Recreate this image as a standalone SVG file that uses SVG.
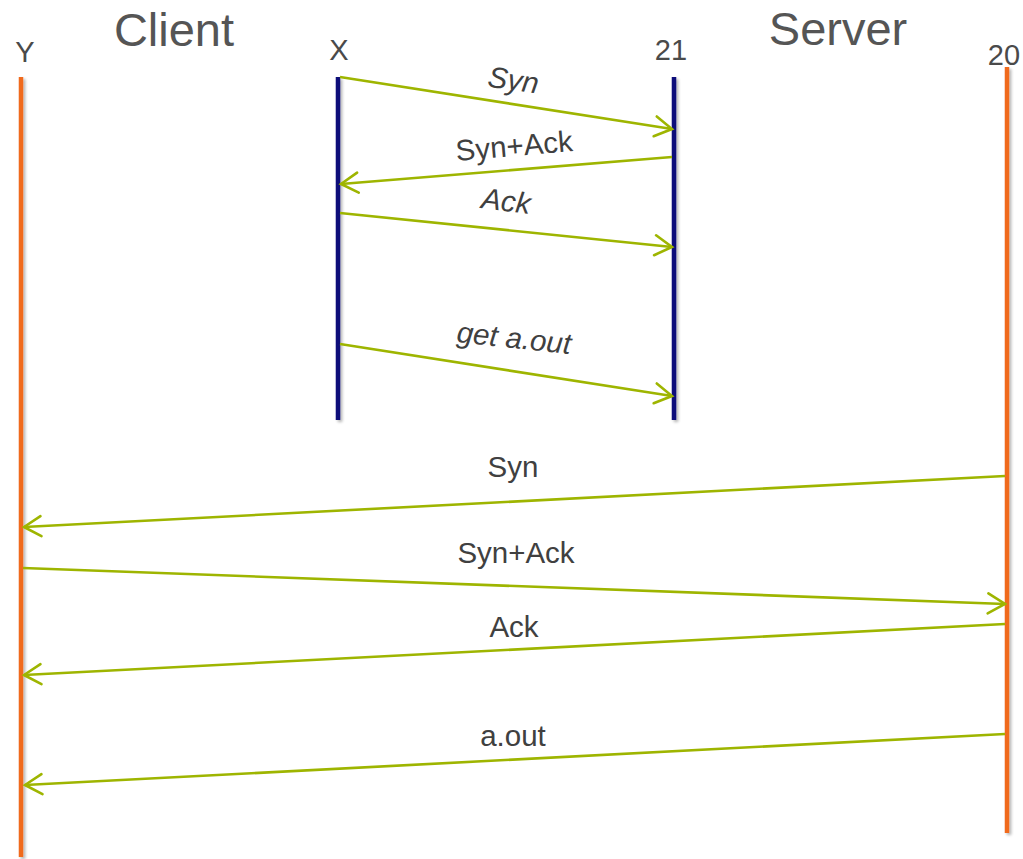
<svg xmlns="http://www.w3.org/2000/svg" width="1023" height="859" viewBox="0 0 1023 859">
  <defs>
    <style>
      .title { font-family: "Liberation Sans", Arial, sans-serif; font-size: 47px; fill: #555555; text-anchor: middle; }
      .port { font-family: "Liberation Sans", Arial, sans-serif; font-size: 29px; fill: #4a4a4a; text-anchor: middle; }
      .msg { font-family: "Liberation Sans", Arial, sans-serif; font-size: 29.5px; fill: #404040; text-anchor: middle; }
      .it { font-style: italic; }
      .life-data { stroke: #F06A1A; stroke-width: 4.5; fill: none; }
      .life-ctrl { stroke: #0A0A7A; stroke-width: 4.5; fill: none; }
      .arrow { stroke: #9EB500; stroke-width: 2.6; fill: none; marker-end: url(#chev); }
    </style>
    <marker id="chev" markerUnits="userSpaceOnUse" viewBox="-20 -12 24 24" markerWidth="24" markerHeight="24" refX="0" refY="0" orient="auto">
      <path d="M-17,-10 L0,0 L-17,10" fill="none" stroke="#9EB500" stroke-width="2.6" stroke-linecap="round" stroke-linejoin="miter"/>
    </marker>
    <!-- soft drop shadow for the lifelines; user-space region since lines have no width -->
    <filter id="shadow" filterUnits="userSpaceOnUse" x="0" y="0" width="1023" height="859">
      <feGaussianBlur in="SourceAlpha" stdDeviation="1.5"/>
      <feOffset dx="1.5" dy="2" result="b"/>
      <feComponentTransfer><feFuncA type="linear" slope="0.3"/></feComponentTransfer>
      <feMerge><feMergeNode/><feMergeNode in="SourceGraphic"/></feMerge>
    </filter>
  </defs>

  <rect width="1023" height="859" fill="#ffffff"/>

  <!-- side titles -->
  <g id="title-client"><text class="title" x="174" y="46">Client</text></g>
  <g id="title-server"><text class="title" x="838" y="45">Server</text></g>

  <!-- lifelines -->
  <g id="client-data-port">
    <text class="port" x="25" y="62">Y</text>
    <line class="life-data" x1="21" y1="77" x2="21" y2="857" filter="url(#shadow)"/>
  </g>
  <g id="client-ctrl-port">
    <text class="port" x="339" y="60">X</text>
    <line class="life-ctrl" x1="338" y1="77" x2="338" y2="420" filter="url(#shadow)"/>
  </g>
  <g id="server-ctrl-port">
    <text class="port" x="671" y="60">21</text>
    <line class="life-ctrl" x1="674" y1="77" x2="674" y2="420" filter="url(#shadow)"/>
  </g>
  <g id="server-data-port">
    <text class="port" x="1004" y="65">20</text>
    <line class="life-data" x1="1007" y1="67" x2="1007" y2="833" filter="url(#shadow)"/>
  </g>

  <!-- messages -->
  <g id="connectors">
    <line class="arrow" x1="340" y1="77" x2="672" y2="129"/>
    <line class="arrow" x1="672" y1="157" x2="341" y2="184"/>
    <line class="arrow" x1="340" y1="213" x2="672" y2="247"/>
    <line class="arrow" x1="340" y1="344" x2="672" y2="396"/>
    <line class="arrow" x1="1005" y1="476" x2="24" y2="527"/>
    <line class="arrow" x1="23" y1="568" x2="1005" y2="604"/>
    <line class="arrow" x1="1005" y1="624" x2="24" y2="675"/>
    <line class="arrow" x1="1005" y1="734" x2="25" y2="785"/>
  </g>

  <!-- message labels -->
  <g id="labels">
    <text class="msg it" x="512" y="90" transform="rotate(8 512 90)">Syn</text>
    <text class="msg" x="515" y="156" transform="rotate(-5 515 156)">Syn+Ack</text>
    <text class="msg it" x="505" y="211" transform="rotate(7 505 211)">Ack</text>
    <text class="msg it" x="513" y="348" transform="rotate(6 513 348)">get a.out</text>
    <text class="msg" x="513" y="477">Syn</text>
    <text class="msg" x="516" y="563">Syn+Ack</text>
    <text class="msg" x="514" y="637">Ack</text>
    <text class="msg" x="513" y="746">a.out</text>
  </g>
</svg>
